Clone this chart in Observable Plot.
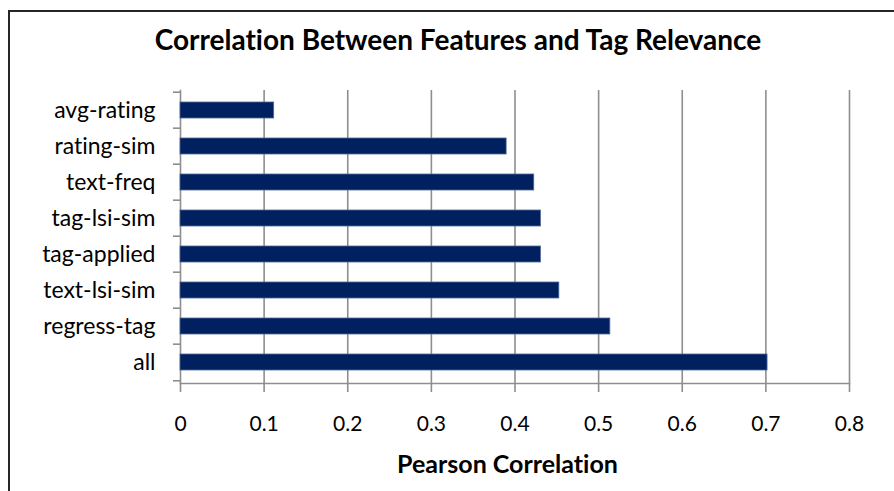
<!DOCTYPE html>
<html>
<head>
<meta charset="utf-8">
<script src="https://cdn.jsdelivr.net/npm/d3@7"></script>
<script src="https://cdn.jsdelivr.net/npm/@observablehq/plot@0.6"></script>
<style>
  html, body { margin: 0; padding: 0; background: #fff; overflow: hidden; }
  body { width: 894px; height: 491px; position: relative; font-family: Lato, "Open Sans", sans-serif; font-variant-ligatures: none; }
  #frame { position: absolute; left: 8px; top: 10px; width: 1000px; height: 1000px; border: 2px solid #262626; box-sizing: border-box; }
  #title { position: absolute; left: 8px; width: 900px; top: 23px; text-align: center; font-weight: bold; font-size: 28px; line-height: 1.2; color: #000; }
  #xlabel { position: absolute; left: 180px; width: 669px; top: 448px; text-align: center; font-weight: bold; font-size: 25px; line-height: 1.2; color: #000; margin-left: -7px; }
  #chart { position: absolute; left: 0; top: 0; }
</style>
</head>
<body>
<div id="frame"></div>
<div id="title">Correlation Between Features and Tag Relevance</div>
<div id="chart"></div>
<div id="xlabel">Pearson Correlation</div>
<script>
// Features, top to bottom
const features = ["avg-rating", "rating-sim", "text-freq", "tag-lsi-sim", "tag-applied", "text-lsi-sim", "regress-tag", "all"];
// Pearson correlation of each feature with tag relevance
const correlations = [0.112, 0.390, 0.423, 0.431, 0.431, 0.453, 0.514, 0.702];
// x-axis tick values
const xTicks = [0, 0.1, 0.2, 0.3, 0.4, 0.5, 0.6, 0.7, 0.8];

const rows = features.map((f, i) => ({feature: f, r: correlations[i]}));
const grey = "#8e8e8e";
const halfStep = (383 - 90) / features.length / 2;

const chart = Plot.plot({
  width: 894,
  height: 491,
  marginLeft: 180,
  marginRight: 45,
  marginTop: 90,
  marginBottom: 108,
  style: {background: "transparent", fontFamily: "Lato, 'Open Sans', sans-serif", color: "#000", fontVariantLigatures: "none"},
  x: {domain: [0, 0.8]},
  y: {domain: features, paddingInner: 0.545, paddingOuter: 0.2725},
  marks: [
    Plot.gridX(xTicks.filter(d => d > 0), {stroke: grey, strokeOpacity: 1, strokeWidth: 1.6}),
    Plot.frame({anchor: "left", stroke: grey, strokeWidth: 1.6}),
    Plot.frame({anchor: "bottom", stroke: grey, strokeWidth: 1.6}),
    Plot.barX(rows, {x: "r", y: "feature", fill: "#002060", stroke: "#4f6897", strokeWidth: 0.8}),
    // ticks on the band boundaries
    Plot.axisY({tickSize: 7, text: null, label: null, stroke: grey, strokeWidth: 1.6, dy: -halfStep}),
    Plot.axisY({ticks: [features[features.length - 1]], tickSize: 7, text: null, label: null, stroke: grey, strokeWidth: 1.6, dy: halfStep}),
    Plot.axisY({tickSize: 0, tickPadding: 25, fontSize: 23, label: null, fill: "#000"}),
    Plot.axisX({ticks: xTicks, tickFormat: d => String(d), tickSize: 9, tickPadding: 24, fontSize: 21, stroke: grey, strokeWidth: 1.6, label: null, fill: "#000"})
  ]
});
document.getElementById("chart").appendChild(chart);
</script>
</body>
</html>
